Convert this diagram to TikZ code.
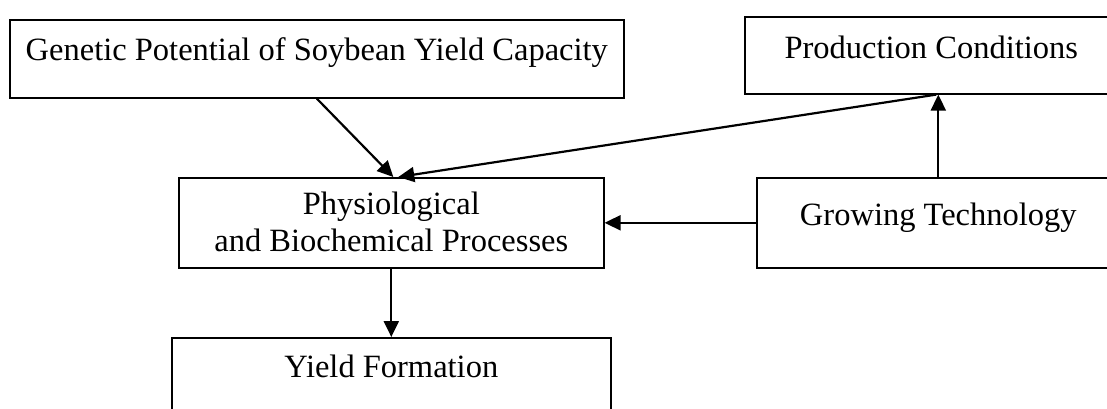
\documentclass[tikz,border=0pt]{standalone}
\usepackage{fontspec}
\setmainfont{Liberation Serif}
\usetikzlibrary{arrows.meta,calc}
\begin{document}
\begin{tikzpicture}[x=1pt,y=-1pt,
  box/.style={draw,line width=1.6pt,rectangle,inner sep=0pt,anchor=north west,
    font=\fontsize{32.5}{37}\selectfont,align=center},
  arr/.style={line width=2.2pt,-{Triangle[length=16pt,width=15pt]}}]
\useasboundingbox (0,0) rectangle (1107,408);
\clip (0,0) rectangle (1107,408);
\node[box,minimum width=614pt,text height=41pt,text depth=37pt] (gen) at (9,19)
  {Genetic Potential of Soybean Yield Capacity};
\node[box,minimum width=373pt,text height=42pt,text depth=35pt] (prod) at (744,16)
  {Production Conditions};
\node[box,minimum width=425pt,text height=74pt,text depth=16pt] (phys) at (178,177)
  {Physiological\\and Biochemical Processes};
\node[box,minimum width=363pt,text height=48pt,text depth=42pt] (grow) at (756,177)
  {Growing Technology};
\node[box,minimum width=439pt,text height=40pt,text depth=60pt] (yield) at (171,337)
  {Yield Formation};
\coordinate (ptip) at ([xshift=5pt]prod.south);
\draw[arr] (gen.south) -- ([xshift=2pt]phys.north);
\draw[arr] (ptip) -- ([xshift=7pt]phys.north);
\draw[arr] (grow.north) -- (grow.north |- prod.south);
\draw[arr] (grow.west) -- (phys.east);
\draw[arr] (phys.south) -- (phys.south |- yield.north);
\end{tikzpicture}
\end{document}
